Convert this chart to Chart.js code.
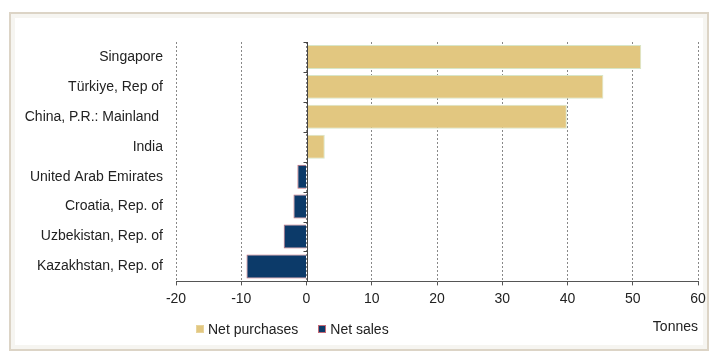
<!DOCTYPE html>
<html>
<head>
<meta charset="utf-8">
<script src="https://cdn.jsdelivr.net/npm/chart.js@4/dist/chart.umd.min.js"></script>
<style>
  html, body { margin: 0; padding: 0; background: #fff; }
  #wrap { position: relative; width: 718px; height: 352px; }
  #frame {
    position: absolute; left: 9px; top: 12px; width: 696px; height: 335px;
    border: 2px solid #dcd4c6; background: #fff;
    box-shadow: inset 0 0 0 4px #f6f5f1;
  }
  #stockChart { position: absolute; left: 0; top: 0; }
  #legend {
    position: absolute; left: 196px; top: 321px;
    font: 14px "Liberation Sans", Arial, sans-serif; color: #222;
    display: flex; align-items: center;
  }
  #legend .item { display: flex; align-items: center; margin-right: 20px; }
  #legend .box { width: 6px; height: 6px; margin-right: 4px; border: 1px solid; }
</style>
</head>
<body>
<div id="wrap">
  <div id="frame"></div>
  <canvas id="stockChart" width="718" height="352"></canvas>
  <div id="legend"></div>
</div>
<script>
const countries = ['Singapore', 'Türkiye, Rep of', 'China, P.R.: Mainland ', 'India',
  'United Arab Emirates', 'Croatia, Rep. of', 'Uzbekistan, Rep. of', 'Kazakhstan, Rep. of'];
const netPurchases = [51.3, 45.5, 39.9, 2.8, null, null, null, null];
const netSales = [null, null, null, null, -1.4, -2.0, -3.5, -9.2];
const seriesNames = ['Net purchases', 'Net sales'];
const axisMin = -20;
const axisMax = 60;
const axisStep = 10;
const unitLabel = 'Tonnes';

const fontFamily = '"Liberation Sans", Arial, sans-serif';
const fillColors = ['#e2c780', '#0c3a69'];
const edgeColors = ['#d8e6c8', '#c46a78'];
const legendEdges = ['#e8d49c', '#c46a78'];

// zero line with small category ticks, like the original
const zeroAxis = {
  id: 'zeroAxis',
  afterDatasetsDraw(chart) {
    const { ctx, scales: { x, y } } = chart;
    const px = Math.round(x.getPixelForValue(0)) + 0.5;
    ctx.save();
    ctx.strokeStyle = '#444';
    ctx.lineWidth = 1;
    ctx.beginPath();
    ctx.moveTo(px, chart.chartArea.top);
    ctx.lineTo(px, chart.chartArea.bottom);
    for (let i = 0; i <= countries.length; i++) {
      const py = Math.round(y.getPixelForValue(i - 0.5)) + 0.5;
      ctx.moveTo(px - 4, py);
      ctx.lineTo(px, py);
    }
    ctx.stroke();
    ctx.restore();
  }
};

let chart;

function renderChart() {
  const ctx = document.getElementById('stockChart').getContext('2d');
  chart = new Chart(ctx, {
    type: 'bar',
    data: {
      labels: countries,
      datasets: [
        {
          label: seriesNames[0],
          data: netPurchases,
          backgroundColor: fillColors[0],
          borderColor: edgeColors[0],
          borderWidth: 1,
          categoryPercentage: 0.8,
          barPercentage: 1
        },
        {
          label: seriesNames[1],
          data: netSales,
          backgroundColor: fillColors[1],
          borderColor: edgeColors[1],
          borderWidth: 1,
          categoryPercentage: 0.8,
          barPercentage: 1
        }
      ]
    },
    options: {
      indexAxis: 'y',
      responsive: false,
      animation: false,
      layout: { padding: { top: 42, right: 20, bottom: 16, left: 10 } },
      plugins: {
        legend: { display: false },
        tooltip: { enabled: false }
      },
      scales: {
        x: {
          stacked: true,
          min: axisMin,
          max: axisMax,
          ticks: {
            stepSize: axisStep,
            padding: 5,
            color: '#222',
            font: { family: fontFamily, size: 14 }
          },
          grid: {
            color: '#888',
            lineWidth: 1,
            tickLength: 4,
            tickColor: '#555',
            tickBorderDash: []
          },
          border: { display: true, color: '#555', width: 1, dash: [2, 2] },
          title: {
            display: true,
            text: unitLabel,
            align: 'end',
            color: '#222',
            font: { family: fontFamily, size: 14 },
            padding: { top: 7, bottom: 0 }
          }
        },
        y: {
          stacked: true,
          ticks: {
            padding: 13,
            color: '#222',
            font: { family: fontFamily, size: 14 }
          },
          grid: { display: false, drawTicks: false },
          border: { display: false },
          afterFit(scale) { scale.width = 166; }
        }
      }
    },
    plugins: [zeroAxis]
  });
}

function renderLegend() {
  const legend = document.getElementById('legend');
  seriesNames.forEach((name, i) => {
    const item = document.createElement('div');
    item.className = 'item';
    item.innerHTML = `<span class="box" style="background:${fillColors[i]};border-color:${legendEdges[i]}"></span>${name}`;
    legend.appendChild(item);
  });
}

window.onload = () => {
  renderChart();
  renderLegend();
};
</script>
</body>
</html>
